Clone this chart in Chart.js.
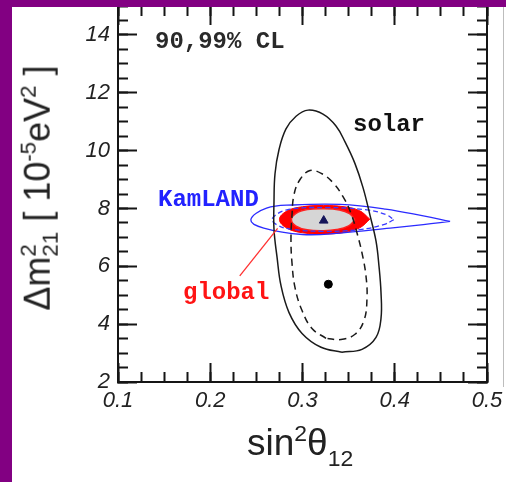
<!DOCTYPE html>
<html>
<head>
<meta charset="utf-8">
<script src="https://cdn.jsdelivr.net/npm/chart.js@4.4.1/dist/chart.umd.min.js"></script>
<style>
  html, body { margin: 0; padding: 0; background: #fff; }
  #wrap { position: relative; width: 506px; height: 482px; overflow: hidden; background: #fff;
          font-family: "Liberation Sans", Arial, sans-serif; color: #222; }
  #chart { position: absolute; left: 0; top: 0; }
  .band-left { position: absolute; left: 0; top: 0; width: 12px; height: 482px; background: #820082; }
  .band-top { position: absolute; left: 0; top: 0; width: 506px; height: 7px; background: #820082; }
  .edge { position: absolute; left: 503px; top: 7px; width: 1px; height: 380px; background: #bdbdbd; }
  .note { position: absolute; font-family: "Liberation Mono", "DejaVu Sans Mono", monospace;
          font-weight: bold; font-size: 24px; line-height: 24px; white-space: nowrap; }
  .ss { display: inline-block; vertical-align: middle; font-size: 0.62em; line-height: 1; text-align: left; }
  .ss span { display: block; }
  #xtitle { position: absolute; left: 247px; top: 424px; font-size: 37px; line-height: 37px; white-space: nowrap; }
  #xtitle .up { font-size: 0.62em; position: relative; top: -0.6em; }
  #xtitle .dn { font-size: 0.62em; position: relative; top: 0.5em; }
  #ytitle { position: absolute; left: 40px; top: 188px; font-size: 36px; line-height: 36px; white-space: nowrap;
            transform: translate(-50%, -50%) rotate(-90deg); }
  #ytitle .up { font-size: 0.62em; position: relative; top: -0.6em; }
</style>
</head>
<body>
<div id="wrap">
  <canvas id="chart" width="506" height="482"></canvas>
  <div class="note" style="left:155px; top:30px; color:#2a2a2a;">90,99% CL</div>
  <div class="note" style="left:353px; top:113px; color:#111;">solar</div>
  <div class="note" style="left:158px; top:188px; color:#2222ff;">KamLAND</div>
  <div class="note" style="left:183px; top:281px; color:#ff1414;">global</div>
  <div id="xtitle">sin<span class="up">2</span>θ<span class="dn">12</span></div>
  <div id="ytitle">Δm<span class="ss"><span>2</span><span>21</span></span> [ 10<span class="up">-5</span>eV<span class="up">2</span> ]</div>
  <div class="edge"></div>
  <div class="band-left"></div>
  <div class="band-top"></div>
</div>
<script>
// axis ranges and ticks
var X_RANGE = [0.1, 0.5];
var Y_RANGE = [2, 15];
var X_TICKS = [0.1, 0.2, 0.3, 0.4, 0.5];
var Y_TICKS = [2, 4, 6, 8, 10, 12, 14];
var X_MINOR = [0.1, 0.125, 0.15, 0.175, 0.2, 0.225, 0.25, 0.275, 0.3, 0.325, 0.35, 0.375, 0.4, 0.425, 0.45, 0.475, 0.5];
var Y_MINOR = [2, 2.5, 3, 3.5, 4, 4.5, 5, 5.5, 6, 6.5, 7, 7.5, 8, 8.5, 9, 9.5, 10, 10.5, 11, 11.5, 12, 12.5, 13, 13.5, 14, 14.5, 15];

// solar contours (99% solid, 90% dashed), traced clockwise from the bottom
var SOLAR99_X = [0.3428, 0.3201, 0.2995, 0.2854, 0.2767, 0.2724, 0.2691, 0.2691, 0.2702, 0.2745, 0.2821, 0.2930, 0.3060, 0.3222, 0.3363, 0.3461, 0.3569, 0.3656, 0.3732, 0.3797, 0.3829, 0.3851, 0.3851, 0.3797, 0.3645, 0.3428];
var SOLAR99_Y = [3.03, 3.20, 3.68, 4.40, 5.33, 6.32, 7.28, 8.24, 9.20, 10.03, 10.75, 11.19, 11.40, 11.26, 10.85, 10.30, 9.55, 8.72, 7.76, 6.87, 6.01, 5.09, 4.20, 3.54, 3.13, 3.03];
var SOLAR90_X = [0.3255, 0.3103, 0.2995, 0.2919, 0.2886, 0.2875, 0.2886, 0.2908, 0.2973, 0.3081, 0.3211, 0.3331, 0.3439, 0.3526, 0.3591, 0.3645, 0.3688, 0.3699, 0.3667, 0.3569, 0.3417, 0.3255];
var SOLAR90_Y = [3.51, 3.85, 4.47, 5.26, 6.12, 6.94, 7.76, 8.48, 9.00, 9.31, 9.20, 8.89, 8.41, 7.83, 7.15, 6.46, 5.67, 4.88, 4.13, 3.65, 3.47, 3.51];

// KamLAND contours
var KAM99_X = [0.460, 0.431, 0.395, 0.341, 0.300, 0.258, 0.244, 0.261, 0.290, 0.341, 0.390, 0.431, 0.460];
var KAM99_Y = [7.55, 7.44, 7.32, 7.15, 7.10, 7.32, 7.61, 8.01, 8.12, 8.14, 7.98, 7.74, 7.55];
var KAM90_X = [0.399, 0.388, 0.362, 0.322, 0.286, 0.272, 0.267, 0.283, 0.326, 0.370, 0.391, 0.399];
var KAM90_Y = [7.61, 7.44, 7.27, 7.21, 7.29, 7.44, 7.64, 7.95, 8.03, 7.95, 7.78, 7.61];

// global fit regions
var GLOBAL99_X = [0.373, 0.362, 0.345, 0.323, 0.300, 0.283, 0.275, 0.283, 0.300, 0.323, 0.345, 0.362, 0.373];
var GLOBAL99_Y = [7.63, 7.33, 7.17, 7.12, 7.16, 7.32, 7.62, 7.91, 8.06, 8.10, 8.06, 7.92, 7.63];
var GLOBAL90_X = [0.357, 0.350, 0.337, 0.323, 0.305, 0.293, 0.288, 0.293, 0.305, 0.323, 0.340, 0.351, 0.357];
var GLOBAL90_Y = [7.61, 7.40, 7.27, 7.23, 7.26, 7.39, 7.61, 7.83, 7.96, 7.99, 7.95, 7.82, 7.61];

// best fits and pointer
var SOLAR_BEST = [0.328, 5.38];
var GLOBAL_BEST = [0.323, 7.58];
var ARROW_X = [0.232, 0.273];
var ARROW_Y = [5.67, 7.31];

function pts(xs, ys) {
  return xs.map(function (x, i) { return { x: x, y: ys[i] }; });
}

function setTicks(list) {
  return function (s) { s.ticks = list.map(function (v) { return { value: v }; }); };
}

// axes must not push the plot area around: size is fixed, label overflow ignored
function fixSize(w, h) {
  return function (s) {
    if (w !== null) s.width = w;
    if (h !== null) s.height = h;
    s.paddingTop = s.paddingBottom = s.paddingLeft = s.paddingRight = 0;
  };
}

var INK = '#151515';
var tickFont = { family: "'Liberation Sans', Arial, sans-serif", size: 22, style: 'italic' };

function edgeAxis(axis, position, range, list, len, extra) {
  var o = {
    type: 'linear', axis: axis, position: position, min: range[0], max: range[1],
    afterBuildTicks: setTicks(list),
    afterFit: fixSize(null, null),
    border: { display: false },
    grid: { drawOnChartArea: false, drawTicks: true, tickLength: len, tickWidth: 2, tickColor: INK },
    ticks: { display: false }
  };
  for (var k in extra) o[k] = extra[k];
  return o;
}

function line(data, color, width, dash, order) {
  return {
    data: data, showLine: true, fill: false, borderColor: color, borderWidth: width,
    borderDash: dash, pointRadius: 0, tension: 0.4, order: order
  };
}

var datasets = [
  {
    data: pts(GLOBAL99_X, GLOBAL99_Y), showLine: true, fill: 'shape', borderColor: '#ff0000',
    backgroundColor: '#ff0000', borderWidth: 1, pointRadius: 0, tension: 0.4, order: 20
  },
  {
    data: pts(GLOBAL90_X, GLOBAL90_Y), showLine: true, fill: 'shape', borderColor: '#ff2020',
    backgroundColor: '#d6d6d6', borderWidth: 1.5, pointRadius: 0, tension: 0.4, order: 19
  },
  line(pts(KAM99_X, KAM99_Y), '#2b2bff', 1.3, [], 8),
  line(pts(KAM90_X, KAM90_Y), '#3a3aff', 1.3, [5, 3], 8),
  line(pts(SOLAR99_X, SOLAR99_Y), '#1a1a1a', 1.5, [], 6),
  line(pts(SOLAR90_X, SOLAR90_Y), '#1a1a1a', 1.5, [7, 5], 6),
  {
    data: pts(ARROW_X, ARROW_Y), showLine: true, fill: false, borderColor: '#ff3030',
    borderWidth: 1.3, pointRadius: 0, order: 5
  },
  {
    data: [{ x: SOLAR_BEST[0], y: SOLAR_BEST[1] }], showLine: false, pointStyle: 'circle',
    pointRadius: 4, backgroundColor: '#000', borderColor: '#000', order: 1
  },
  {
    data: [{ x: GLOBAL_BEST[0], y: GLOBAL_BEST[1] }], showLine: false, pointStyle: 'triangle',
    pointRadius: 5, backgroundColor: '#14145a', borderColor: '#14145a', borderWidth: 1, order: 1
  }
];

new Chart(document.getElementById('chart'), {
  type: 'scatter',
  data: { datasets: datasets },
  options: {
    responsive: false,
    animation: false,
    events: [],
    layout: { padding: { top: 3, right: 19, left: 0, bottom: 0 } },
    plugins: { legend: { display: false }, tooltip: { enabled: false } },
    scales: {
      x: {
        type: 'linear', position: 'bottom', min: X_RANGE[0], max: X_RANGE[1],
        afterBuildTicks: setTicks(X_TICKS),
        afterFit: fixSize(null, 100),
        border: { display: true, color: INK, width: 2 },
        grid: { drawOnChartArea: false, tickLength: -19, tickWidth: 2, tickColor: INK },
        ticks: {
          padding: 25, color: '#222', font: tickFont, maxRotation: 0, autoSkip: false,
          callback: function (v) { return v.toFixed(1); }
        }
      },
      y: {
        type: 'linear', position: 'left', min: Y_RANGE[0], max: Y_RANGE[1],
        afterBuildTicks: setTicks(Y_TICKS),
        afterFit: fixSize(118, null),
        border: { display: true, color: INK, width: 2 },
        grid: { drawOnChartArea: false, tickLength: -19, tickWidth: 2, tickColor: INK },
        ticks: { padding: 27, color: '#222', font: tickFont, autoSkip: false }
      },
      xTop: edgeAxis('x', 'top', X_RANGE, X_TICKS, -19, {
        afterFit: fixSize(null, 0),
        border: { display: true, color: INK, width: 2 }
      }),
      yRight: edgeAxis('y', 'right', Y_RANGE, Y_TICKS, -19, {
        afterFit: fixSize(0, null),
        border: { display: true, color: INK, width: 2 }
      }),
      xMinB: edgeAxis('x', { y: Y_RANGE[0] }, X_RANGE, X_MINOR, -10, {}),
      xMinT: edgeAxis('x', { y: Y_RANGE[1] }, X_RANGE, X_MINOR, 10, {}),
      yMinL: edgeAxis('y', { x: X_RANGE[0] }, Y_RANGE, Y_MINOR, -10, {}),
      yMinR: edgeAxis('y', { x: X_RANGE[1] }, Y_RANGE, Y_MINOR, 10, {})
    }
  }
});
</script>
</body>
</html>
